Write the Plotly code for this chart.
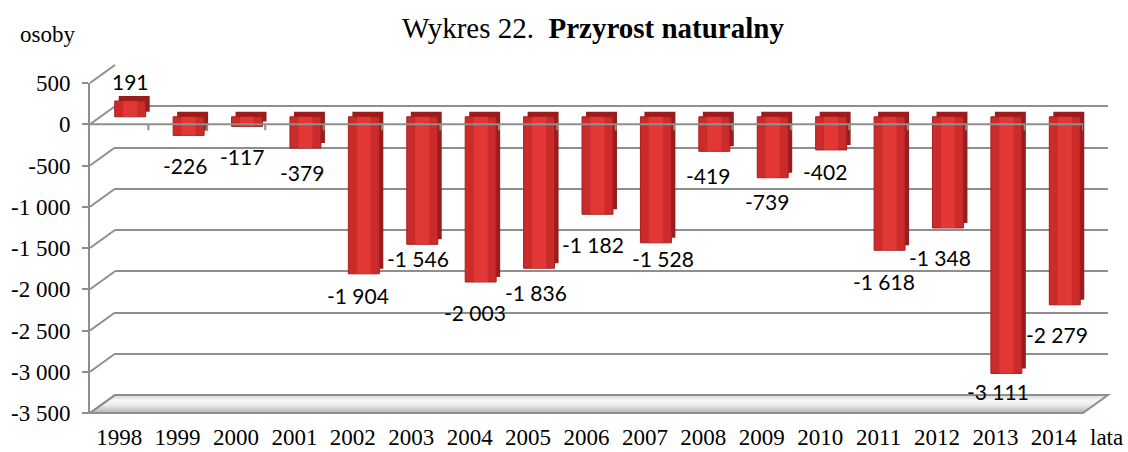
import plotly.graph_objects as go

# ---------------- data ----------------
years = ["1998", "1999", "2000", "2001", "2002", "2003", "2004", "2005", "2006",
         "2007", "2008", "2009", "2010", "2011", "2012", "2013", "2014"]
values = [191, -226, -117, -379, -1904, -1546, -2003, -1836, -1182,
          -1528, -419, -739, -402, -1618, -1348, -3111, -2279]
y_ticks = [500, 0, -500, -1000, -1500, -2000, -2500, -3000, -3500]
y_tick_text = ["500", "0", "-500", "-1 000", "-1 500", "-2 000", "-2 500", "-3 000", "-3 500"]
title_plain = "Wykres 22.  "
title_bold = "Przyrost naturalny"
y_title = "osoby"
x_title = "lata"

# label nudges (style only, px)
label_dx = [0, -4, -5, -3, -6, -4, -6, -3, -5, 7, -6, -6, -6, -6, -8, -8, -8]
label_dy = [-19, 30, 30, 24, 22, 14, 30, 24, 30, 16, 24, 24, 22, 31, 30, 18, 30]

# ---------------- geometry (pixels) ----------------
W, H = 1128, 452
FX0, FX1 = 90, 1083
FY_TOP, FY_BOT = 83, 413
BACK = (25, -18)
MID = (11, -7.5)
DEPTH = (4, -5)
YMIN, YMAX = -3500, 500
XR = [-0.5, len(years) - 0.5]
GRID = "#8e8e8e"
SERIF = "Liberation Serif"


def dom(dx, dy):
    return ([(FX0 + dx) / W, (FX1 + dx) / W],
            [(H - (FY_BOT + dy)) / H, (H - (FY_TOP + dy)) / H])


def px(x, y):
    return x / W, 1 - y / H


def yf(v):
    return FY_BOT - (v - YMIN) / (YMAX - YMIN) * (FY_BOT - FY_TOP)


def fmt(v):
    s = f"{abs(v):,}".replace(",", " ")
    return ("-" if v < 0 else "") + s


fig = go.Figure()
xs = list(range(len(years)))

# dark depth copy of bars (side / top faces)
fig.add_trace(go.Bar(x=xs, y=values, xaxis="x2", yaxis="y2", width=0.53,
                     marker=dict(color="#9a1d1d", line=dict(width=0)),
                     hoverinfo="skip", showlegend=False))
# front faces
fig.add_trace(go.Bar(x=xs, y=values, xaxis="x3", yaxis="y3", width=0.53,
                     marker=dict(color="#cc2b2b", line=dict(color="#a51f1f", width=1)),
                     showlegend=False, hovertemplate="%{y}<extra></extra>"))
# light highlight stripe on front faces
fig.add_trace(go.Bar(x=xs, y=values, xaxis="x3", yaxis="y3", width=0.24,
                     marker=dict(color="rgba(232,62,58,0.75)", line=dict(width=0)),
                     hoverinfo="skip", showlegend=False))
# invisible trace for front axes
fig.add_trace(go.Scatter(x=xs, y=values, xaxis="x4", yaxis="y4", mode="markers",
                         marker=dict(opacity=0), hoverinfo="skip", showlegend=False))
# invisible trace for back axes
fig.add_trace(go.Scatter(x=xs, y=values, xaxis="x", yaxis="y", mode="markers",
                         marker=dict(opacity=0), hoverinfo="skip", showlegend=False))

bx, by = dom(*BACK)
dx_, dy_ = dom(MID[0] + DEPTH[0], MID[1] + DEPTH[1])
mx, my = dom(*MID)
fx, fy = dom(0, 0)

hidden_x = dict(range=XR, showgrid=False, zeroline=False, showticklabels=False,
                ticks="", showline=False, fixedrange=True, automargin=False)
hidden_y = dict(range=[YMIN, YMAX], showgrid=False, zeroline=False,
                showticklabels=False, ticks="", showline=False, fixedrange=True,
                automargin=False)

layout = dict(
    template="none",
    width=W, height=H, autosize=False,
    margin=dict(l=0, r=0, t=0, b=0, pad=0),
    paper_bgcolor="white", plot_bgcolor="rgba(0,0,0,0)",
    showlegend=False, barmode="overlay",
    xaxis=dict(hidden_x, domain=bx, anchor="y"),
    yaxis=dict(hidden_y, domain=by, anchor="x", showgrid=True, gridcolor=GRID,
               gridwidth=2, tickvals=y_ticks),
    xaxis2=dict(hidden_x, domain=dx_, anchor="y2"),
    yaxis2=dict(hidden_y, domain=dy_, anchor="x2"),
    xaxis3=dict(hidden_x, domain=mx, anchor="y3"),
    yaxis3=dict(hidden_y, domain=my, anchor="x3"),
    xaxis4=dict(range=XR, domain=fx, anchor="y4", showgrid=False, zeroline=False,
                tickvals=xs, ticktext=years, ticks="", showline=False,
                tickfont=dict(family=SERIF, size=23, color="black"),
                ticklabelstandoff=8, fixedrange=True, automargin=False),
    yaxis4=dict(range=[YMIN, YMAX], domain=fy, anchor="x4", showgrid=False,
                zeroline=False, tickvals=y_ticks, ticktext=y_tick_text,
                ticks="outside", ticklen=6, tickwidth=2, tickcolor=GRID,
                showline=True, linecolor=GRID, linewidth=2,
                tickfont=dict(family=SERIF, size=23, color="black"),
                ticklabelstandoff=7, fixedrange=True, automargin=False),
)
fig.update_layout(**layout)

shapes = []
# floor gradient bands
n_bands = 18


def band_color(f):
    # f=1 back, f=0 front
    stops = [(0.0, (178, 178, 178)), (0.45, (236, 236, 236)), (0.7, (246, 246, 246)), (1.0, (214, 214, 214))]
    for (a, ca), (b, cb) in zip(stops[:-1], stops[1:]):
        if a <= f <= b:
            t = (f - a) / (b - a)
            c = [round(ca[i] + (cb[i] - ca[i]) * t) for i in range(3)]
            return f"rgb({c[0]},{c[1]},{c[2]})"
    return "rgb(200,200,200)"


for k in range(n_bands):
    f0 = k / n_bands
    f1 = min(1.0, (k + 1.3) / n_bands)
    pts = [(FX0 + BACK[0] * f0, FY_BOT + BACK[1] * f0),
           (FX1 + BACK[0] * f0, FY_BOT + BACK[1] * f0),
           (FX1 + BACK[0] * f1, FY_BOT + BACK[1] * f1),
           (FX0 + BACK[0] * f1, FY_BOT + BACK[1] * f1)]
    pp = [px(*p) for p in pts]
    path = "M " + " L ".join(f"{a:.5f},{b:.5f}" for a, b in pp) + " Z"
    shapes.append(dict(type="path", path=path, xref="paper", yref="paper",
                       fillcolor=band_color((k + 0.5) / n_bands), line=dict(width=0),
                       layer="below"))
# floor outline
pts = [(FX0, FY_BOT), (FX1, FY_BOT), (FX1 + BACK[0], FY_BOT + BACK[1]), (FX0 + BACK[0], FY_BOT + BACK[1])]
pp = [px(*p) for p in pts]
path = "M " + " L ".join(f"{a:.5f},{b:.5f}" for a, b in pp) + " Z"
shapes.append(dict(type="path", path=path, xref="paper", yref="paper",
                   fillcolor="rgba(0,0,0,0)", line=dict(color=GRID, width=2), layer="below"))

# left side wall diagonals
for v in y_ticks:
    x0, y0 = px(FX0, yf(v))
    x1, y1 = px(FX0 + BACK[0], yf(v) + BACK[1])
    shapes.append(dict(type="line", xref="paper", yref="paper", x0=x0, y0=y0, x1=x1, y1=y1,
                       line=dict(color=GRID, width=2), layer="below"))

# front zero line (category axis) with ticks, on top of bars
shapes.append(dict(type="line", xref="x4", yref="y4", x0=XR[0], x1=XR[1], y0=0, y1=0,
                   line=dict(color=GRID, width=2), layer="above"))
for k in xs:
    shapes.append(dict(type="line", xref="x4", yref="y4", x0=k + 0.5, x1=k + 0.5,
                       ysizemode="pixel", yanchor=0, y0=0, y1=-6,
                       line=dict(color=GRID, width=2), layer="above"))
fig.update_layout(shapes=shapes)

annotations = []
for i, v in enumerate(values):
    annotations.append(dict(x=i, y=v, xref="x3", yref="y3", text=fmt(v),
                            showarrow=False, xanchor="center", yanchor="middle",
                            xshift=label_dx[i], yshift=-label_dy[i],
                            font=dict(family="Lato", size=21, color="black")))
annotations.append(dict(x=593 / W, y=1 - 28 / H, xref="paper", yref="paper",
                        text=title_plain + "<b>" + title_bold + "</b>", showarrow=False,
                        xanchor="center", yanchor="middle",
                        font=dict(family=SERIF, size=29, color="black")))
annotations.append(dict(x=18 / W, y=1 - 35 / H, xref="paper", yref="paper",
                        text=y_title, showarrow=False, xanchor="left", yanchor="middle",
                        font=dict(family=SERIF, size=23, color="black")))
annotations.append(dict(x=1125 / W, y=1 - 437 / H, xref="paper", yref="paper",
                        text=x_title, showarrow=False, xanchor="right", yanchor="middle",
                        font=dict(family=SERIF, size=23, color="black")))
fig.update_layout(annotations=annotations)

fig.write_html("out.html", config={"displayModeBar": False},
               post_script="document.body.style.margin='0';document.body.style.overflow='hidden';")
